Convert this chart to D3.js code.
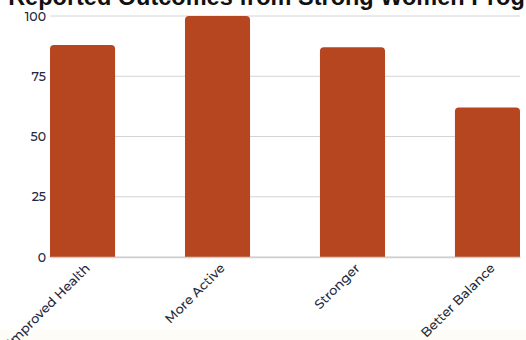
<!DOCTYPE html>
<html>
<head>
<meta charset="utf-8">
<script src="https://cdn.jsdelivr.net/npm/d3@7"></script>
<style>
  body { margin: 0; background: #fefcf7; }
  svg { display: block; }
  .tick text { font-family: Montserrat, Lato, sans-serif; font-weight: 500; fill: #232a40; }
</style>
</head>
<body>
<div id="chart"></div>
<script>
// survey outcomes
const outcomes = ["Improved Health", "More Active", "Stronger", "Better Balance"];
const percents = [88, 100, 87, 62];
const yTicks = [0, 25, 50, 75, 100];

const margin = {top: 16, right: 6, bottom: 73, left: 50},
      width = 520 - margin.left,
      height = 257 - margin.top;

const svg = d3.select("#chart")
  .append("svg")
    .attr("width", 526)
    .attr("height", 340);

// white chart card, cream page below it
svg.append("rect")
    .attr("width", 526)
    .attr("height", 330)
    .attr("fill", "#fff");

// title, wider than the window so it gets clipped
svg.append("text")
    .attr("x", 288)
    .attr("y", 5)
    .attr("text-anchor", "middle")
    .style("font-family", "'Liberation Sans', Arial, sans-serif")
    .style("font-weight", "bold")
    .style("font-size", "23.5px")
    .style("fill", "#111")
    .text("Reported Outcomes from Strong Women Program");

const g = svg.append("g")
    .attr("transform", `translate(${margin.left},${margin.top})`);

const x = d3.scaleBand()
    .domain(outcomes)
    .range([0, width])
    .paddingInner(0.518)
    .paddingOuter(0);

const y = d3.scaleLinear()
    .domain([0, 100])
    .range([height, 0]);

// gridlines
g.append("g")
  .selectAll("line")
  .data(yTicks)
  .join("line")
    .attr("x1", 0)
    .attr("x2", width)
    .attr("y1", d => y(d))
    .attr("y2", d => y(d))
    .attr("stroke", "#d4d4d4")
    .attr("stroke-width", 1);

// y axis
const yAxis = g.append("g")
    .call(d3.axisLeft(y).tickValues(yTicks).tickSize(0).tickPadding(4));
yAxis.select(".domain").remove();
yAxis.selectAll("text").style("font-size", "12.5px");

// bars with rounded top corners
const r = 4;
g.selectAll(".bar")
  .data(percents)
  .join("path")
    .attr("class", "bar")
    .attr("fill", "#b5461f")
    .attr("d", (d, i) => {
      const x0 = x(outcomes[i]), x1 = x0 + x.bandwidth();
      const y0 = y(d), yb = y(0);
      return `M${x0},${yb}V${y0 + r}Q${x0},${y0} ${x0 + r},${y0}H${x1 - r}Q${x1},${y0} ${x1},${y0 + r}V${yb}Z`;
    });

// x axis
const xAxis = g.append("g")
    .attr("transform", `translate(0,${height})`)
    .call(d3.axisBottom(x).tickSize(0).tickPadding(5));
xAxis.select(".domain").attr("stroke", "#cfcfcf").attr("stroke-width", 1.5);
xAxis.selectAll("text")
    .style("font-size", "13px")
    .attr("text-anchor", "end")
    .attr("dx", "-0.2em")
    .attr("transform", "rotate(-45)");
</script>
</body>
</html>
